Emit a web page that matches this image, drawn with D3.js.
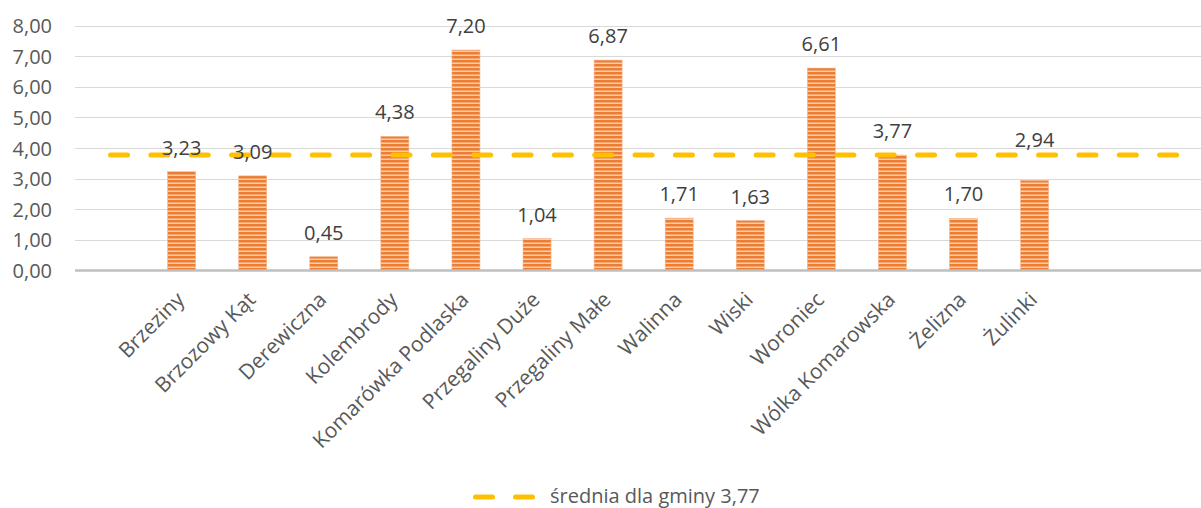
<!DOCTYPE html>
<html>
<head>
<meta charset="utf-8">
<script src="https://cdn.jsdelivr.net/npm/d3@7/dist/d3.min.js"></script>
<style>
  html, body { margin: 0; padding: 0; background: #fff; }
  svg { display: block; font-family: "Open Sans", "DejaVu Sans", sans-serif; }
</style>
</head>
<body>
<svg id="chart" width="1201" height="508"></svg>
<script>
// ---- data ----
const categories = ["Brzeziny", "Brzozowy Kąt", "Derewiczna", "Kolembrody", "Komarówka Podlaska",
  "Przegaliny Duże", "Przegaliny Małe", "Walinna", "Wiski", "Woroniec", "Wólka Komarowska", "Żelizna", "Żulinki"];
const values = [3.23, 3.09, 0.45, 4.38, 7.20, 1.04, 6.87, 1.71, 1.63, 6.61, 3.77, 1.70, 2.94];
const average = 3.77;
const averageLabel = "średnia dla gminy 3,77";
const yTicks = [0, 1, 2, 3, 4, 5, 6, 7, 8];
// category slots on the axis: one empty slot before, two after (average series spans all)
const slots = ["__lead"].concat(categories, ["__tail1", "__tail2"]);

// layout: label manually moved up in the original
const labelNudge = { "Żulinki": -16 };

const fmt = v => v.toFixed(2).replace(".", ",");

const svg = d3.select("#chart");

const x = d3.scaleBand().domain(slots).range([75, 1212.3]).padding(0);
const y = d3.scaleLinear().domain([0, 8]).range([270.5, 25.5]);
const bw = x.bandwidth();
const barW = bw * 0.394;
const cx = k => x(k) + bw / 2;

// pattern for bars (horizontal stripes)
const defs = svg.append("defs");
const pat = defs.append("pattern").attr("id", "stripes")
  .attr("patternUnits", "userSpaceOnUse").attr("width", 8).attr("height", 4);
pat.append("rect").attr("width", 8).attr("height", 4).attr("fill", "#ED7D31");
pat.append("rect").attr("y", 2.5).attr("width", 8).attr("height", 1.5).attr("fill", "#F9CDB0");

// gridlines
svg.append("g").selectAll("line").data(yTicks.filter(t => t > 0)).join("line")
  .attr("x1", 75).attr("x2", 1201)
  .attr("y1", d => Math.round(y(d)) + 0.5).attr("y2", d => Math.round(y(d)) + 0.5)
  .attr("stroke", "#D9D9D9").attr("stroke-width", 1);

// y tick labels
svg.append("g").selectAll("text").data(yTicks).join("text")
  .attr("x", 52).attr("y", d => y(d) + 7.5)
  .attr("text-anchor", "end")
  .attr("font-size", 20).attr("fill", "#595959")
  .text(d => fmt(d));

// bars
svg.append("g").selectAll("rect").data(categories).join("rect")
  .attr("x", (d) => cx(d) - barW / 2)
  .attr("width", barW)
  .attr("y", (d, i) => y(values[i]))
  .attr("height", (d, i) => y(0) - y(values[i]))
  .attr("fill", "url(#stripes)")
  .attr("stroke", "#F6B48A").attr("stroke-width", 0.6);

// axis line
svg.append("line").attr("x1", 75).attr("x2", 1201)
  .attr("y1", y(0)).attr("y2", y(0))
  .attr("stroke", "#BFBFBF").attr("stroke-width", 2.5);

// average line
const avgLine = d3.line().x(d => cx(d)).y(() => y(average));
svg.append("path")
  .attr("d", avgLine([slots[0], slots[slots.length - 1]]))
  .attr("fill", "none").attr("stroke", "#FFC000").attr("stroke-width", 5)
  .attr("stroke-linecap", "round").attr("stroke-dasharray", "17,23.35");

// data labels
svg.append("g").selectAll("text").data(categories).join("text")
  .attr("x", d => cx(d))
  .attr("y", (d, i) => y(values[i]) - 17 + (labelNudge[d] || 0))
  .attr("text-anchor", "middle")
  .attr("font-size", 20).attr("fill", "#404040")
  .text((d, i) => fmt(values[i]));

// category labels
svg.append("g").selectAll("text").data(categories).join("text")
  .attr("transform", d => `translate(${cx(d) + 4},${301}) rotate(-45)`)
  .attr("text-anchor", "end")
  .attr("font-size", 21).attr("fill", "#595959")
  .text(d => d);

// legend
const lg = svg.append("g");
lg.append("line").attr("x1", 475.5).attr("x2", 532.5).attr("y1", 497).attr("y2", 497)
  .attr("stroke", "#FFC000").attr("stroke-width", 5)
  .attr("stroke-linecap", "round").attr("stroke-dasharray", "17,23");
lg.append("text").attr("x", 550).attr("y", 503)
  .attr("font-size", 20).attr("fill", "#595959")
  .text(averageLabel);
</script>
</body>
</html>
